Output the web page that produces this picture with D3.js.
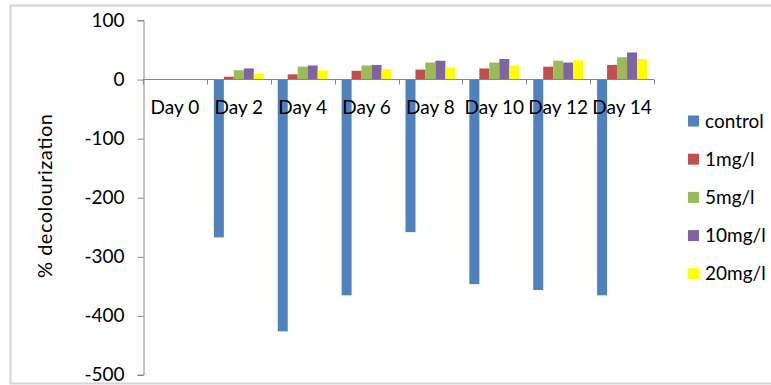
<!DOCTYPE html>
<html><head><meta charset="utf-8">
<script src="https://cdn.jsdelivr.net/npm/d3@7"></script>
<style>
html,body{margin:0;padding:0;background:#fff;}
text{font-family:Lato,"Open Sans",sans-serif;fill:#000;}
</style></head>
<body>
<script>
const categories = ["Day 0","Day 2","Day 4","Day 6","Day 8","Day 10","Day 12","Day 14"];
const seriesNames = ["control","1mg/l","5mg/l","10mg/l","20mg/l"];
const colors = ["#4F81BD","#C0504D","#9BBB59","#8064A2","#FFFF00"];
const control = [0,-268,-427,-366,-259,-347,-357,-366];
const mg1 = [0,4,8,14,16,18,21,24];
const mg5 = [0,15,21,23,28,28,31,37];
const mg10 = [0,18,23,24,31,34,28,45];
const mg20 = [0,9,15,17,20,23,32,34];
const yTicks = [100,0,-100,-200,-300,-400,-500];
const seriesValues = [control, mg1, mg5, mg10, mg20];

const W = 771, H = 385;
const svg = d3.select("body").append("svg").attr("width",W).attr("height",H);

// chart border
svg.append("rect").attr("x",10.5).attr("y",5.5).attr("width",W+5).attr("height",378)
  .attr("fill","none").attr("stroke","#d4d4d4").attr("stroke-width",2);

const plotL = 143, plotR = 654, plotT = 20, plotB = 374.5;
const y = d3.scaleLinear().domain([-500,100]).range([plotB, plotT]);
const x0 = d3.scaleBand().domain(categories).range([plotL, plotR]).padding(0);
const x1 = d3.scaleBand().domain(seriesNames).range([0, x0.bandwidth()]).paddingInner(0).paddingOuter(0.7);

// bars
const g = svg.append("g");
categories.forEach((c, ci) => {
  seriesNames.forEach((s, si) => {
    const v = seriesValues[si][ci];
    if (v === 0) return;
    g.append("rect")
      .attr("x", x0(c) + x1(s))
      .attr("y", Math.min(y(v), y(0)))
      .attr("width", x1.bandwidth())
      .attr("height", Math.abs(y(v) - y(0)))
      .attr("fill", colors[si]);
  });
});

// y axis
const yAxis = d3.axisLeft(y).tickValues(yTicks).tickSize(6).tickPadding(13).tickFormat(d => String(d));
const ya = svg.append("g").attr("transform",`translate(${plotL+0.5},0)`).call(yAxis);
ya.select(".domain").attr("stroke","#868686");
ya.selectAll(".tick line").attr("stroke","#868686").attr("transform","translate(0,0.5)");
ya.selectAll(".tick text").style("font-size","19px").style("font-family","Lato").attr("fill","#000");

// category axis at zero
const xa = svg.append("g").attr("transform",`translate(0,${Math.round(y(0))+0.5})`);
xa.append("line").attr("x1",plotL).attr("x2",plotR).attr("stroke","#868686");
const edges = categories.map(c => x0(c)).concat([plotR]);
xa.selectAll(".tk").data(edges).enter().append("line")
  .attr("x1",d=>Math.round(d)+0.5).attr("x2",d=>Math.round(d)+0.5).attr("y1",0).attr("y2",5).attr("stroke","#868686");
xa.selectAll(".lbl").data(categories).enter().append("text")
  .attr("x", d => x0(d) + x0.bandwidth()/2).attr("y", 34.5)
  .attr("text-anchor","middle").style("font-size","19px").text(d=>d);

// y title
svg.append("text").attr("transform","translate(52,196) rotate(-90)")
  .attr("text-anchor","middle").style("font-size","20px")
  .attr("textLength",164).attr("lengthAdjust","spacing").text("% decolourization");

// legend
const leg = svg.append("g");
seriesNames.forEach((s, i) => {
  const cy = 121 + i*38.2;
  leg.append("rect").attr("x",688).attr("y",cy-5.5).attr("width",11).attr("height",11).attr("fill",colors[i]);
  leg.append("text").attr("x",705).attr("y",cy).attr("dy","0.35em").style("font-size","19px").text(s);
});
</script>
</body></html>
